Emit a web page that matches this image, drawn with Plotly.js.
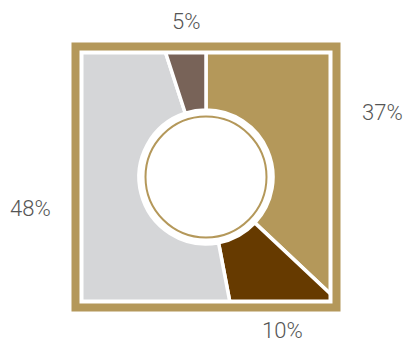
<!DOCTYPE html>
<html><head><meta charset="utf-8">
<script src="https://cdn.plot.ly/plotly-3.0.1.min.js"></script>
<style>html,body{margin:0;padding:0;overflow:hidden;background:#fff}#chart{width:404px;height:360px}</style>
</head><body><div id="chart"></div>
<script>
// ---- data ----
const categories = ['Segment A', 'Segment B', 'Segment C', 'Segment D'];
const values = [37, 10, 48, 5];
const valueLabels = ['37%', '10%', '48%', '5%'];
const colors = ['#b4985a', '#663a00', '#d5d6d8', '#786358'];

// ---- geometry (pixels) ----
const W = 404, H = 360;
const cx = 206, cy = 177;
const innerHalf = 122.5;   // slice area half-size
const goldHalf = 130.5;    // centre of gold border line
const goldW = 8;
const outerHalf = 134.5;   // outer edge of gold border
const R = 176;             // pie radius (covers square corners)
const holeR = 67;
const ringR = 60.5;
const gold = '#b4985a';

const px = x => x / W;
const py = y => 1 - y / H;

const total = values.reduce((a, b) => a + b, 0);
let cum = 0;
const bounds = values.map(v => { const a0 = cum / total * 360; cum += v; return [a0, cum / total * 360]; });

function sOfAngle(deg, h) {
  if (deg >= 360 - 1e-9) return 8 * h;
  const r = deg * Math.PI / 180, dx = Math.sin(r), dy = -Math.cos(r);
  const t = h / Math.max(Math.abs(dx), Math.abs(dy));
  const x = dx * t, y = dy * t, e = 1e-6;
  if (Math.abs(y + h) < e && x >= 0) return x;
  if (Math.abs(x - h) < e) return h + (y + h);
  if (Math.abs(y - h) < e) return 3 * h + (h - x);
  if (Math.abs(x + h) < e) return 5 * h + (h - y);
  return 7 * h + (x + h);
}
function pointOfS(s, h) {
  if (s < h) return {x: s, y: -h, edge: 'top'};
  if (s < 3 * h) return {x: h, y: -h + (s - h), edge: 'right'};
  if (s < 5 * h) return {x: h - (s - 3 * h), y: h, edge: 'bottom'};
  if (s < 7 * h) return {x: -h, y: h - (s - 5 * h), edge: 'left'};
  return {x: -h + (s - 7 * h), y: -h, edge: 'top'};
}

const font = {family: "Roboto, 'Open Sans', Lato, sans-serif", size: 22, color: '#555555', weight: 300};
const gap = 19;
const annotations = bounds.map((b, i) => {
  const s0 = sOfAngle(b[0], innerHalf), s1 = sOfAngle(b[1], innerHalf);
  const p = pointOfS((s0 + s1) / 2, innerHalf);
  const a = {xref: 'paper', yref: 'paper', text: valueLabels[i], showarrow: false, font: font};
  if (p.edge === 'right') { a.x = px(cx + outerHalf + gap); a.y = py(cy + p.y); a.xanchor = 'left'; a.yanchor = 'middle'; }
  else if (p.edge === 'left') { a.x = px(cx - outerHalf - gap); a.y = py(cy + p.y); a.xanchor = 'right'; a.yanchor = 'middle'; }
  else if (p.edge === 'top') { a.x = px(cx + p.x); a.y = py(cy - outerHalf - gap - 2); a.xanchor = 'center'; a.yanchor = 'middle'; }
  else { a.x = px(cx + p.x); a.y = py(cy + outerHalf + gap); a.xanchor = 'center'; a.yanchor = 'middle'; }
  return a;
});

const trace = {
  type: 'pie',
  values: values,
  labels: categories,
  marker: {colors: colors, line: {color: '#ffffff', width: 3.5}},
  sort: false,
  direction: 'clockwise',
  rotation: 0,
  hole: holeR / R,
  textinfo: 'none',
  hoverinfo: 'skip',
  showlegend: false,
  domain: {x: [px(cx - R), px(cx + R)], y: [py(cy + R), py(cy - R)]}
};

const maskPath = `M0,0 H1 V1 H0 Z M${px(cx - innerHalf)},${py(cy - innerHalf)} H${px(cx + innerHalf)} V${py(cy + innerHalf)} H${px(cx - innerHalf)} Z`;

const shapes = [
  {type: 'path', xref: 'paper', yref: 'paper', path: maskPath, fillcolor: '#ffffff', fillrule: 'evenodd', line: {width: 0}, layer: 'above'},
  {type: 'rect', xref: 'paper', yref: 'paper', x0: px(cx - goldHalf), x1: px(cx + goldHalf), y0: py(cy + goldHalf), y1: py(cy - goldHalf),
   line: {color: gold, width: goldW}, fillcolor: 'rgba(0,0,0,0)', layer: 'above'},
  {type: 'circle', xref: 'paper', yref: 'paper', x0: px(cx - ringR), x1: px(cx + ringR), y0: py(cy + ringR), y1: py(cy - ringR),
   line: {color: gold, width: 2}, fillcolor: 'rgba(0,0,0,0)', layer: 'above'}
];

Plotly.newPlot('chart', [trace], {
  width: W, height: H,
  margin: {l: 0, r: 0, t: 0, b: 0, pad: 0},
  paper_bgcolor: '#ffffff',
  showlegend: false,
  shapes: shapes,
  annotations: annotations
}, {staticPlot: true, displayModeBar: false});
</script>
</body></html>
